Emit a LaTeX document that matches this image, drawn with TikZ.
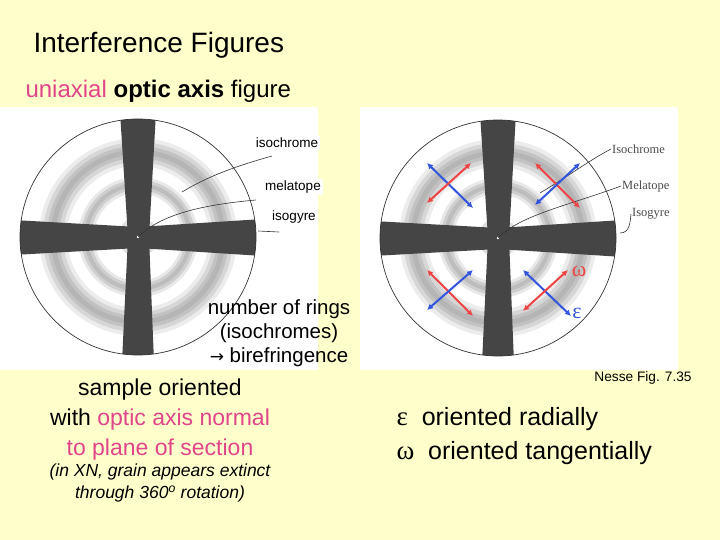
\documentclass[tikz,border=0pt]{standalone}
\usepackage{fontspec}
\setmainfont{Liberation Sans}
\newfontfamily\serifx{Liberation Serif}
\usetikzlibrary{arrows.meta}
\definecolor{bg}{HTML}{FFFFCC}
\definecolor{pinkx}{HTML}{E0458A}
\definecolor{isog}{HTML}{454545}
\definecolor{redx}{HTML}{EE4444}
\definecolor{bluex}{HTML}{3355DD}
\tikzset{x=1pt,y=-1pt,
 lab/.style={fill=white,inner sep=2pt,font=\fontsize{13.5}{16}\selectfont},
 rlab/.style={inner sep=1pt,text=black!70,font=\serifx\fontsize{12.5}{14}\selectfont},
 lead/.style={draw=black!80,line width=0.6pt},
 dbl/.style={line width=2pt,{Latex[length=6pt,width=6pt]}-{Latex[length=6pt,width=6pt]}}}
\newcommand{\figx}[1]{%
 \begin{scope}[shift={(#1)}]
  \fill[white] (0,0) circle (118);
  \draw[gray!15,line width=28] (0,0) circle (85);
  \draw[gray!32,line width=20] (0,0) circle (85);
  \draw[gray!48,line width=12] (0,0) circle (85);
  \draw[gray!58,line width=5] (0,0) circle (85);
  \draw[gray!18,line width=16] (0,0) circle (52);
  \draw[gray!38,line width=10] (0,0) circle (52);
  \draw[gray!52,line width=4] (0,0) circle (52);
  \fill[gray!25] (0,0) circle (20);
  \fill[gray!45] (0,0) circle (14);
  \begin{scope}
   \clip (0,0) circle (118);
   \fill[isog] (-18,-125) -- (18,-125) -- (11,0) -- (16,125) -- (-16,125) -- (-10,0) -- cycle;
   \fill[isog] (-125,-17) -- (0,-10) -- (125,-18) -- (125,19) -- (0,11) -- (-125,18) -- cycle;
  \end{scope}
  \draw[black!80,line width=0.7pt] (0,0) circle (118);
  \fill[white] (0,0) circle (1.3);
 \end{scope}}
\begin{document}
\begin{tikzpicture}
\useasboundingbox (0,0) rectangle (720,540);
\fill[bg] (0,0) rectangle (720,540);
\node[anchor=west,font=\fontsize{28}{32}\selectfont] (title) at (30,45) {Interference Figures};
\node[anchor=west,font=\fontsize{24}{26}\selectfont] (sub) at (22,91) {\textcolor{pinkx}{uniaxial} \textbf{optic axis} figure};
% left panel
\fill[white] (0,107) rectangle (318,370);
\figx{138,237}
\coordinate (lc) at (138,237);
\node[lab] (iso) at (287,143) {isochrome};
\node[lab] (mel) at (293,187) {melatope};
\node[lab] (isg) at (294,217) {isogyre};
\draw[lead] (182,192) .. controls (210,175) and (240,165) .. (272,156);
\draw[lead] (lc) .. controls (160,215) and (200,205) .. (256,200);
\draw[lead] (258,231) -- (279,232);
\node[align=center,font=\fontsize{20.5}{24}\selectfont,inner sep=1pt] (rings) at (279,333) {number of rings\\(isochromes)\\{\fontspec{DejaVu Sans}\fontsize{17}{18}\selectfont →} birefringence};
% right panel
\fill[white] (360,107) rectangle (678,370);
\figx{498,238}
\coordinate (rc) at (498,238);
\node[rlab,anchor=west] (riso) at (611,149) {Isochrome};
\node[rlab,anchor=west] (rmel) at (621,186) {Melatope};
\node[rlab,anchor=west] (risg) at (631,214) {Isogyre};
\draw[lead] (540,193) .. controls (570,175) and (590,160) .. (riso.west);
\draw[lead] (rc) .. controls (520,215) and (570,205) .. (rmel.west);
\draw[lead] (620,233) .. controls (630,233) and (630,222) .. (risg.west);
\draw[dbl,bluex] (427,163) -- (473,208);
\draw[dbl,redx] (427,203) -- (471,163);
\draw[dbl,redx] (535,163) -- (580,208);
\draw[dbl,bluex] (535,205) -- (580,163);
\draw[dbl,redx] (427,270) -- (473,316);
\draw[dbl,bluex] (427,310) -- (473,270);
\draw[dbl,bluex] (523,270) -- (571,316);
\draw[dbl,redx] (523,311) -- (568,270);
\node[text=redx,font=\serifx\fontsize{22}{24}\selectfont] (om) at (579,271) {ω};
\node[text=bluex,font=\serifx\fontsize{22}{24}\selectfont] (ep) at (577,313) {ε};
\node[font=\fontsize{13.7}{15}\selectfont] (nesse) at (643,378) {Nesse Fig. 7.35};
% bottom text
\node[align=center,font=\fontsize{23}{30}\selectfont] (sample) at (160,420) {sample oriented\\with \textcolor{pinkx}{optic axis normal}\\\textcolor{pinkx}{to plane of section}};
\node[align=center,font=\itshape\fontsize{17.5}{22}\selectfont] (xn) at (160,483) {(in XN, grain appears extinct\\through 360\textsuperscript{o} rotation)};
\node[anchor=west,font=\fontsize{25}{28}\selectfont] (er) at (393,419) {{\serifx\fontsize{27}{28}\selectfont ε}\ \ oriented radially};
\node[anchor=west,font=\fontsize{25}{28}\selectfont] (ot) at (393,453) {{\serifx\fontsize{27}{28}\selectfont ω}\ \ oriented tangentially};
\end{tikzpicture}
\end{document}
